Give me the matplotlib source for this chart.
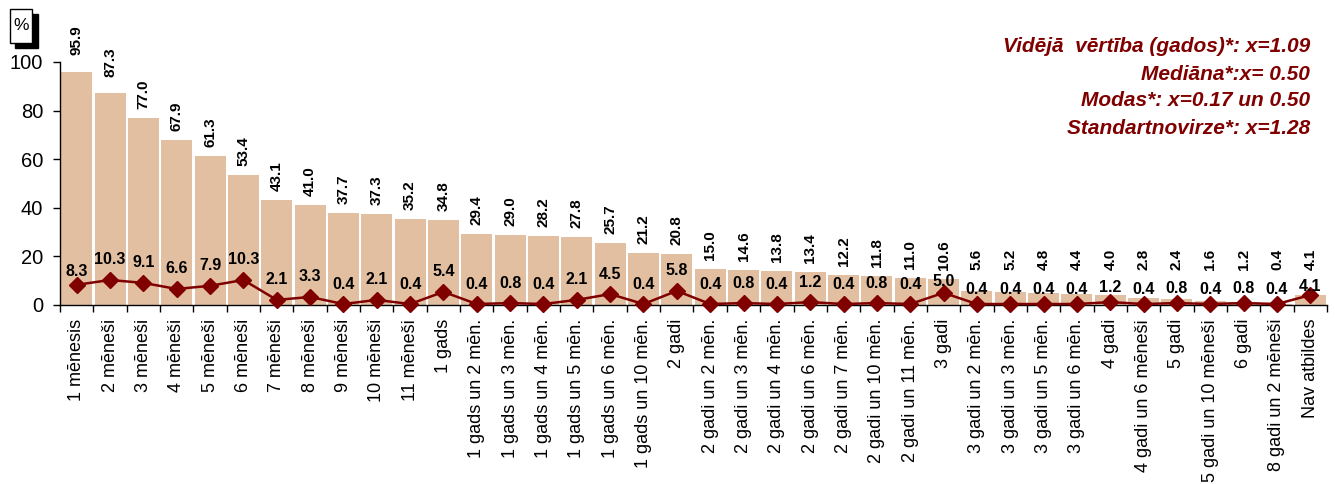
import numpy as np
import matplotlib
matplotlib.use("Agg")
import matplotlib.pyplot as plt
from matplotlib.patches import Rectangle

plt.rcParams["font.family"] = ["Liberation Sans", "DejaVu Sans"]

categories = [
    "1 mēnesis", "2 mēneši", "3 mēneši", "4 mēneši", "5 mēneši", "6 mēneši",
    "7 mēneši", "8 mēneši", "9 mēneši", "10 mēneši", "11 mēneši", "1 gads",
    "1 gads un 2 mēn.", "1 gads un 3 mēn.", "1 gads un 4 mēn.", "1 gads un 5 mēn.",
    "1 gads un 6 mēn.", "1 gads un 10 mēn.", "2 gadi", "2 gadi un 2 mēn.",
    "2 gadi un 3 mēn.", "2 gadi un 4 mēn.", "2 gadi un 6 mēn.", "2 gadi un 7 mēn.",
    "2 gadi un 10 mēn.", "2 gadi un 11 mēn.", "3 gadi", "3 gadi un 2 mēn.",
    "3 gadi un 3 mēn.", "3 gadi un 5 mēn.", "3 gadi un 6 mēn.", "4 gadi",
    "4 gadi un 6 mēneši", "5 gadi", "5 gadi un 10 mēneši", "6 gadi",
    "8 gadi un 2 mēneši", "Nav atbildes",
]

# kumulatīvie procenti (stabiņi)
cumulative = [
    95.9, 87.3, 77.0, 67.9, 61.3, 53.4, 43.1, 41.0, 37.7, 37.3, 35.2, 34.8,
    29.4, 29.0, 28.2, 27.8, 25.7, 21.2, 20.8, 15.0, 14.6, 13.8, 13.4, 12.2,
    11.8, 11.0, 10.6, 5.6, 5.2, 4.8, 4.4, 4.0, 2.8, 2.4, 1.6, 1.2, 0.4, 4.1,
]

# procenti katrā kategorijā (līnija)
share = [
    8.3, 10.3, 9.1, 6.6, 7.9, 10.3, 2.1, 3.3, 0.4, 2.1, 0.4, 5.4,
    0.4, 0.8, 0.4, 2.1, 4.5, 0.4, 5.8, 0.4, 0.8, 0.4, 1.2, 0.4,
    0.8, 0.4, 5.0, 0.4, 0.4, 0.4, 0.4, 1.2, 0.4, 0.8, 0.4, 0.8, 0.4, 4.1,
]

stats_lines = [
    "Vidējā  vērtība (gados)*: x=1.09",
    "Mediāna*:x= 0.50",
    "Modas*: x=0.17 un 0.50",
    "Standartnovirze*: x=1.28",
]

BAR_COLOR = "#E2BFA0"
LINE_COLOR = "#800000"

W, H = 1335, 484

# etiķešu nobīdes pikseļos (kā oriģinālā, kur dažas pārvietotas ar roku)
BAR_LABEL_GAP = 9
BAR_LABEL_GAP_FIX = {0: 17, 1: 16}
BAR_LABEL_MAX_PX = 270          # zemākā vieta etiķetes apakšai (no augšas)
LINE_LABEL_GAP = 20
LINE_LABEL_GAP_FIX = {0: 13, 26: 11, 37: 9}
LINE_LABEL_GAP_RIGHT = 15       # labajā pusē etiķetes tuvāk punktiem


def main():
    fig = plt.figure(figsize=(W / 100, H / 100), dpi=100)
    ax_left, ax_right, ax_top, ax_bottom = 60, 1327, 62, 305
    ax = fig.add_axes([ax_left / W, 1 - ax_bottom / H,
                       (ax_right - ax_left) / W, (ax_bottom - ax_top) / H])
    px_per_unit = (ax_bottom - ax_top) / 100

    x = np.arange(len(categories))
    ax.bar(x, cumulative, width=0.93, color=BAR_COLOR, zorder=1)
    ax.plot(x, share, color=LINE_COLOR, lw=1.8, marker="D", markersize=8,
            zorder=3, clip_on=False)

    # stabiņu vērtības (vertikāli)
    floor_val = (ax_bottom - BAR_LABEL_MAX_PX) / px_per_unit
    for i, (xi, v) in enumerate(zip(x, cumulative)):
        gap = BAR_LABEL_GAP_FIX.get(i, BAR_LABEL_GAP) / px_per_unit
        ypos = max(v + gap, floor_val)
        ax.text(xi, ypos, f"{v:.1f}", rotation=90, ha="center", va="bottom",
                fontsize=11, fontweight="bold", clip_on=False, zorder=4)

    # līnijas vērtības
    for i, (xi, v) in enumerate(zip(x, share)):
        gap = LINE_LABEL_GAP_RIGHT if 27 <= i <= 36 else LINE_LABEL_GAP
        gap = LINE_LABEL_GAP_FIX.get(i, gap)
        ax.annotate(f"{v:.1f}", (xi, v), xytext=(0, gap * 0.72),
                    textcoords="offset points", ha="center", va="center",
                    fontsize=11.5, fontweight="bold", zorder=4,
                    annotation_clip=False)

    ax.set_xlim(-0.5, len(categories) - 0.5)
    ax.set_ylim(0, 100)
    ax.set_yticks([0, 20, 40, 60, 80, 100])
    ax.tick_params(axis="y", labelsize=14.5, length=5, width=1, pad=7)

    ax.set_xticks(x)
    ax.set_xticklabels(categories, rotation=90, fontsize=13)
    ax.set_xticks(np.arange(len(categories) + 1) - 0.5, minor=True)
    ax.tick_params(axis="x", which="major", length=0, pad=10)
    ax.tick_params(axis="x", which="minor", length=5, width=1)

    for side in ["top", "right"]:
        ax.spines[side].set_visible(False)
    ax.spines["left"].set_linewidth(1)
    ax.spines["bottom"].set_linewidth(1)

    # "%" lodziņš ar ēnu
    fig.patches.append(Rectangle((15 / W, 1 - 48 / H), 23 / W, 34 / H,
                                 transform=fig.transFigure, facecolor="black",
                                 edgecolor="black", zorder=5))
    fig.patches.append(Rectangle((10 / W, 1 - 43 / H), 22 / W, 34 / H,
                                 transform=fig.transFigure, facecolor="white",
                                 edgecolor="black", lw=1, zorder=6))
    fig.text(21 / W, 1 - 25 / H, "%", ha="center", va="center", fontsize=12.5, zorder=7)

    # statistikas teksts
    for i, line in enumerate(stats_lines):
        fig.text(1310 / W, 1 - (47 + 27 * i) / H, line, ha="right", va="center",
                 fontsize=15, fontweight="bold", fontstyle="italic", color=LINE_COLOR)

    fig.savefig("out.png", dpi=100)
    plt.close(fig)


if __name__ == "__main__":
    main()
